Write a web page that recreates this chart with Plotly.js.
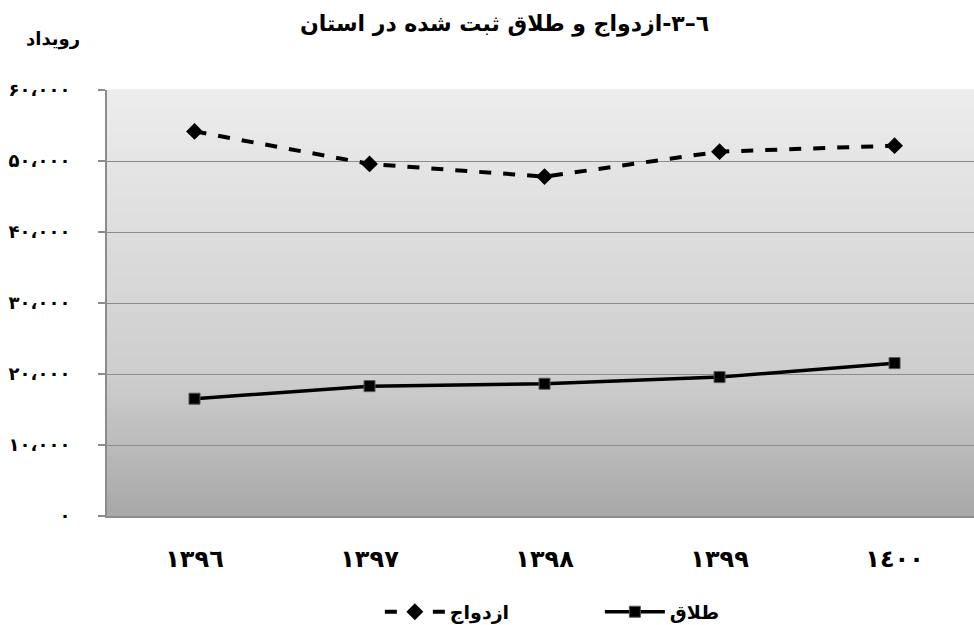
<!DOCTYPE html>
<html><head><meta charset="utf-8">
<script src="https://cdn.plot.ly/plotly-3.0.1.min.js"></script>
<style>html,body{margin:0;padding:0;background:#fff}#chart{width:974px;height:625px}</style>
</head><body><div id="chart"></div>
<script>
const years = ["١٣٩٦","١٣٩٧","١٣٩٨","١٣٩٩","١٤٠٠"];
const marriage = [54170, 49590, 47800, 51320, 52160];
const divorce = [16520, 18290, 18630, 19560, 21530];
const yTickVals = [0, 10000, 20000, 30000, 40000, 50000, 60000];
const yTickText = ["۰","۱۰،۰۰۰","۲۰،۰۰۰","۳۰،۰۰۰","۴۰،۰۰۰","۵۰،۰۰۰","۶۰،۰۰۰"];
const seriesNames = ["ازدواج", "طلاق"];
const titleText = "٦–٣-ازدواج و طلاق ثبت شده در استان";
const yTitle = "رویداد";

const font = "DejaVu Sans, sans-serif";

// background gradient bands (styling only)
const shapes = [];
const N = 80;
function shade(t){ // t: 0 top -> 1 bottom
  const top = 237, mid = 205, bot = 168;
  let v = t < 0.68 ? top + (mid - top) * (t / 0.68) : mid + (bot - mid) * ((t - 0.68) / 0.32);
  v = Math.round(v);
  return `rgb(${v},${v},${v})`;
}
for (let i = 0; i < N; i++) {
  shapes.push({type:'rect', xref:'paper', yref:'paper', x0:0, x1:1,
    y0: 1 - (i + 1) / N, y1: 1 - i / N + 0.002, layer:'below',
    line:{width:0}, fillcolor: shade((i + 0.5) / N)});
}

const data = [
  {x: years, y: marriage, name: '<b>'+seriesNames[0]+'</b>', type:'scatter', mode:'lines+markers',
   line:{color:'#000', width:4, dash:'dash'},
   marker:{symbol:'diamond', size:13, color:'#000'}},
  {x: years, y: divorce, name: '<b>'+seriesNames[1]+'</b>', type:'scatter', mode:'lines+markers',
   line:{color:'#000', width:3.5},
   marker:{symbol:'square', size:11, color:'#000', line:{color:'#555', width:1}}}
];

const layout = {
  width: 974, height: 625,
  margin:{l:107, r:0, t:90, b:109},
  paper_bgcolor:'#fff', plot_bgcolor:'rgba(0,0,0,0)',
  showlegend:true,
  title:{text:'<b>'+titleText+'</b>', x:0.518, xanchor:'center', y:0.962, yanchor:'middle',
         font:{family:font, size:22, color:'#000'}},
  xaxis:{type:'category', range:[-0.5, 4.454], showgrid:false, zeroline:false,
         showline:true, linecolor:'#8c8c8c', linewidth:2, ticks:'',
         tickfont:{family:font, size:24, color:'#000'}, ticklabelstandoff:20,
         tickvals: years, ticktext: years.map(s=>'<b>'+s+'</b>')},
  yaxis:{range:[0, 60000], tickvals:yTickVals, ticktext:yTickText.map(s=>'<b>'+s+'</b>'),
         showgrid:true, gridcolor:'#8c8c8c', gridwidth:1, zeroline:false,
         showline:true, linecolor:'#8c8c8c', linewidth:2, ticks:'outside', ticklen:7,
         tickcolor:'#8c8c8c', tickwidth:1.5,
         tickfont:{family:font, size:18, color:'#000'}, ticklabelstandoff:24},
  legend:{orientation:'h', xref:'container', x:0.39, xanchor:'left', yref:'container', y:0.021, yanchor:'middle',
          font:{family:font, size:19, color:'#000'}, entrywidth:145, itemwidth:60},
  shapes: shapes,
  annotations:[{text:'<b>'+yTitle+'</b>', xref:'paper', yref:'paper', x:-0.062, y:1.12,
    xanchor:'center', yanchor:'middle', showarrow:false, font:{family:font, size:18, color:'#000'}}]
};
Plotly.newPlot('chart', data, layout, {displayModeBar:false});
</script></body></html>
